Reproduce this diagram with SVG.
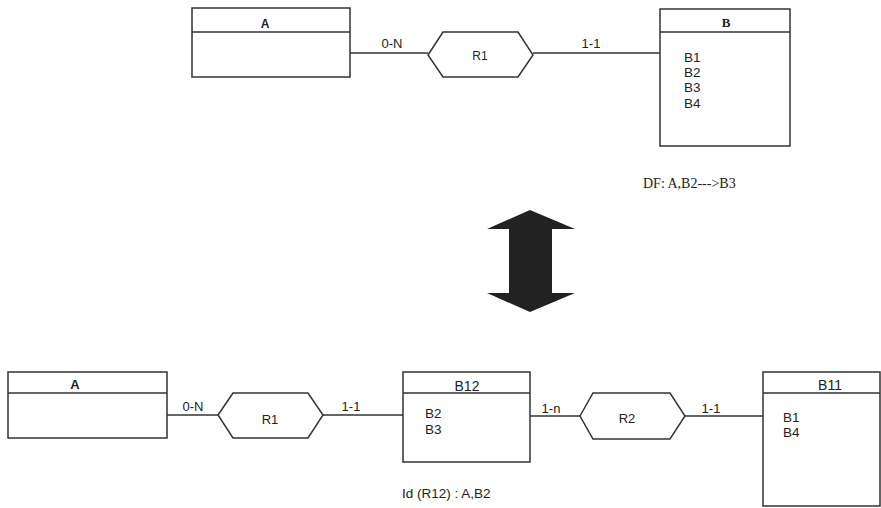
<svg xmlns="http://www.w3.org/2000/svg" width="881" height="508" viewBox="0 0 881 508">
<style>
.box{fill:none;stroke:#333;stroke-width:1.5}
.ln{stroke:#333;stroke-width:1.3;fill:none}
.t{font-family:"Liberation Sans",Arial,sans-serif;font-size:13.5px;fill:#222}
.c{font-family:"Liberation Sans",Arial,sans-serif;font-size:13px;fill:#222;text-anchor:middle}
.h{font-family:"Liberation Sans",Arial,sans-serif;fill:#222;text-anchor:middle}
.s{font-family:"Liberation Serif","Times New Roman",serif;fill:#222}
</style>
<rect width="881" height="508" fill="#fff"/>
<g id="connectors">
<line class="ln" x1="350" y1="53" x2="428" y2="53"/>
<line class="ln" x1="533" y1="53" x2="660" y2="53"/>
<line class="ln" x1="167" y1="415" x2="218" y2="415"/>
<line class="ln" x1="323" y1="415" x2="403" y2="415"/>
<line class="ln" x1="530" y1="416" x2="580" y2="416"/>
<line class="ln" x1="685" y1="416" x2="763" y2="416"/>
<text class="c" x="392" y="48">0-N</text>
<text class="c" x="591" y="48">1-1</text>
<text class="c" x="193" y="411">0-N</text>
<text class="c" x="351" y="411">1-1</text>
<text class="c" x="551" y="413">1-n</text>
<text class="c" x="711" y="413">1-1</text>
</g>
<g id="A-top">
<rect class="box" x="192" y="8" width="158" height="69"/>
<line class="ln" x1="192" y1="32" x2="350" y2="32"/>
<text class="h" x="265" y="28" style="font-size:12px;font-weight:bold">A</text>
</g>
<g id="R1-top">
<polygon class="box" points="428,55 443,32 518,32 533,55 518,77 443,77"/>
<text class="h" x="480" y="60" style="font-size:12px">R1</text>
</g>
<g id="B-top">
<rect class="box" x="660" y="9" width="130" height="137"/>
<line class="ln" x1="660" y1="32" x2="790" y2="32"/>
<text class="s" x="726" y="27" style="font-size:13px;font-weight:bold;text-anchor:middle">B</text>
<text class="t" x="684" y="62">B1</text>
<text class="t" x="684" y="77">B2</text>
<text class="t" x="684" y="92">B3</text>
<text class="t" x="684" y="108">B4</text>
</g>
<text class="s" x="643" y="188" style="font-size:14px">DF: A,B2---&gt;B3</text>
<g id="double-arrow">
<polygon fill="#222" points="530,210 575,229 552,229 552,293 575,293 530,312 487,293 509,293 509,229 487,229"/>
</g>
<g id="A-bottom">
<rect class="box" x="8" y="372" width="159" height="66"/>
<line class="ln" x1="8" y1="393" x2="167" y2="393"/>
<text class="h" x="75" y="389" style="font-size:13px;font-weight:bold">A</text>
</g>
<g id="R1-bottom">
<polygon class="box" points="218,415 233,393 308,393 323,415 308,438 233,438"/>
<text class="h" x="270" y="424" style="font-size:13px">R1</text>
</g>
<g id="B12">
<rect class="box" x="403" y="372" width="127" height="90"/>
<line class="ln" x1="403" y1="393" x2="530" y2="393"/>
<text class="h" x="467" y="391" style="font-size:14px">B12</text>
<text class="t" x="425" y="418">B2</text>
<text class="t" x="425" y="434">B3</text>
</g>
<text class="t" x="402" y="498">Id (R12) : A,B2</text>
<g id="R2">
<polygon class="box" points="580,416 593,393 670,393 685,416 670,439 593,439"/>
<text class="h" x="627" y="423" style="font-size:13px">R2</text>
</g>
<g id="B11">
<rect class="box" x="763" y="372" width="117" height="134"/>
<line class="ln" x1="763" y1="393" x2="880" y2="393"/>
<text class="h" x="830" y="390" style="font-size:14px">B11</text>
<text class="t" x="783" y="422">B1</text>
<text class="t" x="783" y="437">B4</text>
</g>
</svg>
